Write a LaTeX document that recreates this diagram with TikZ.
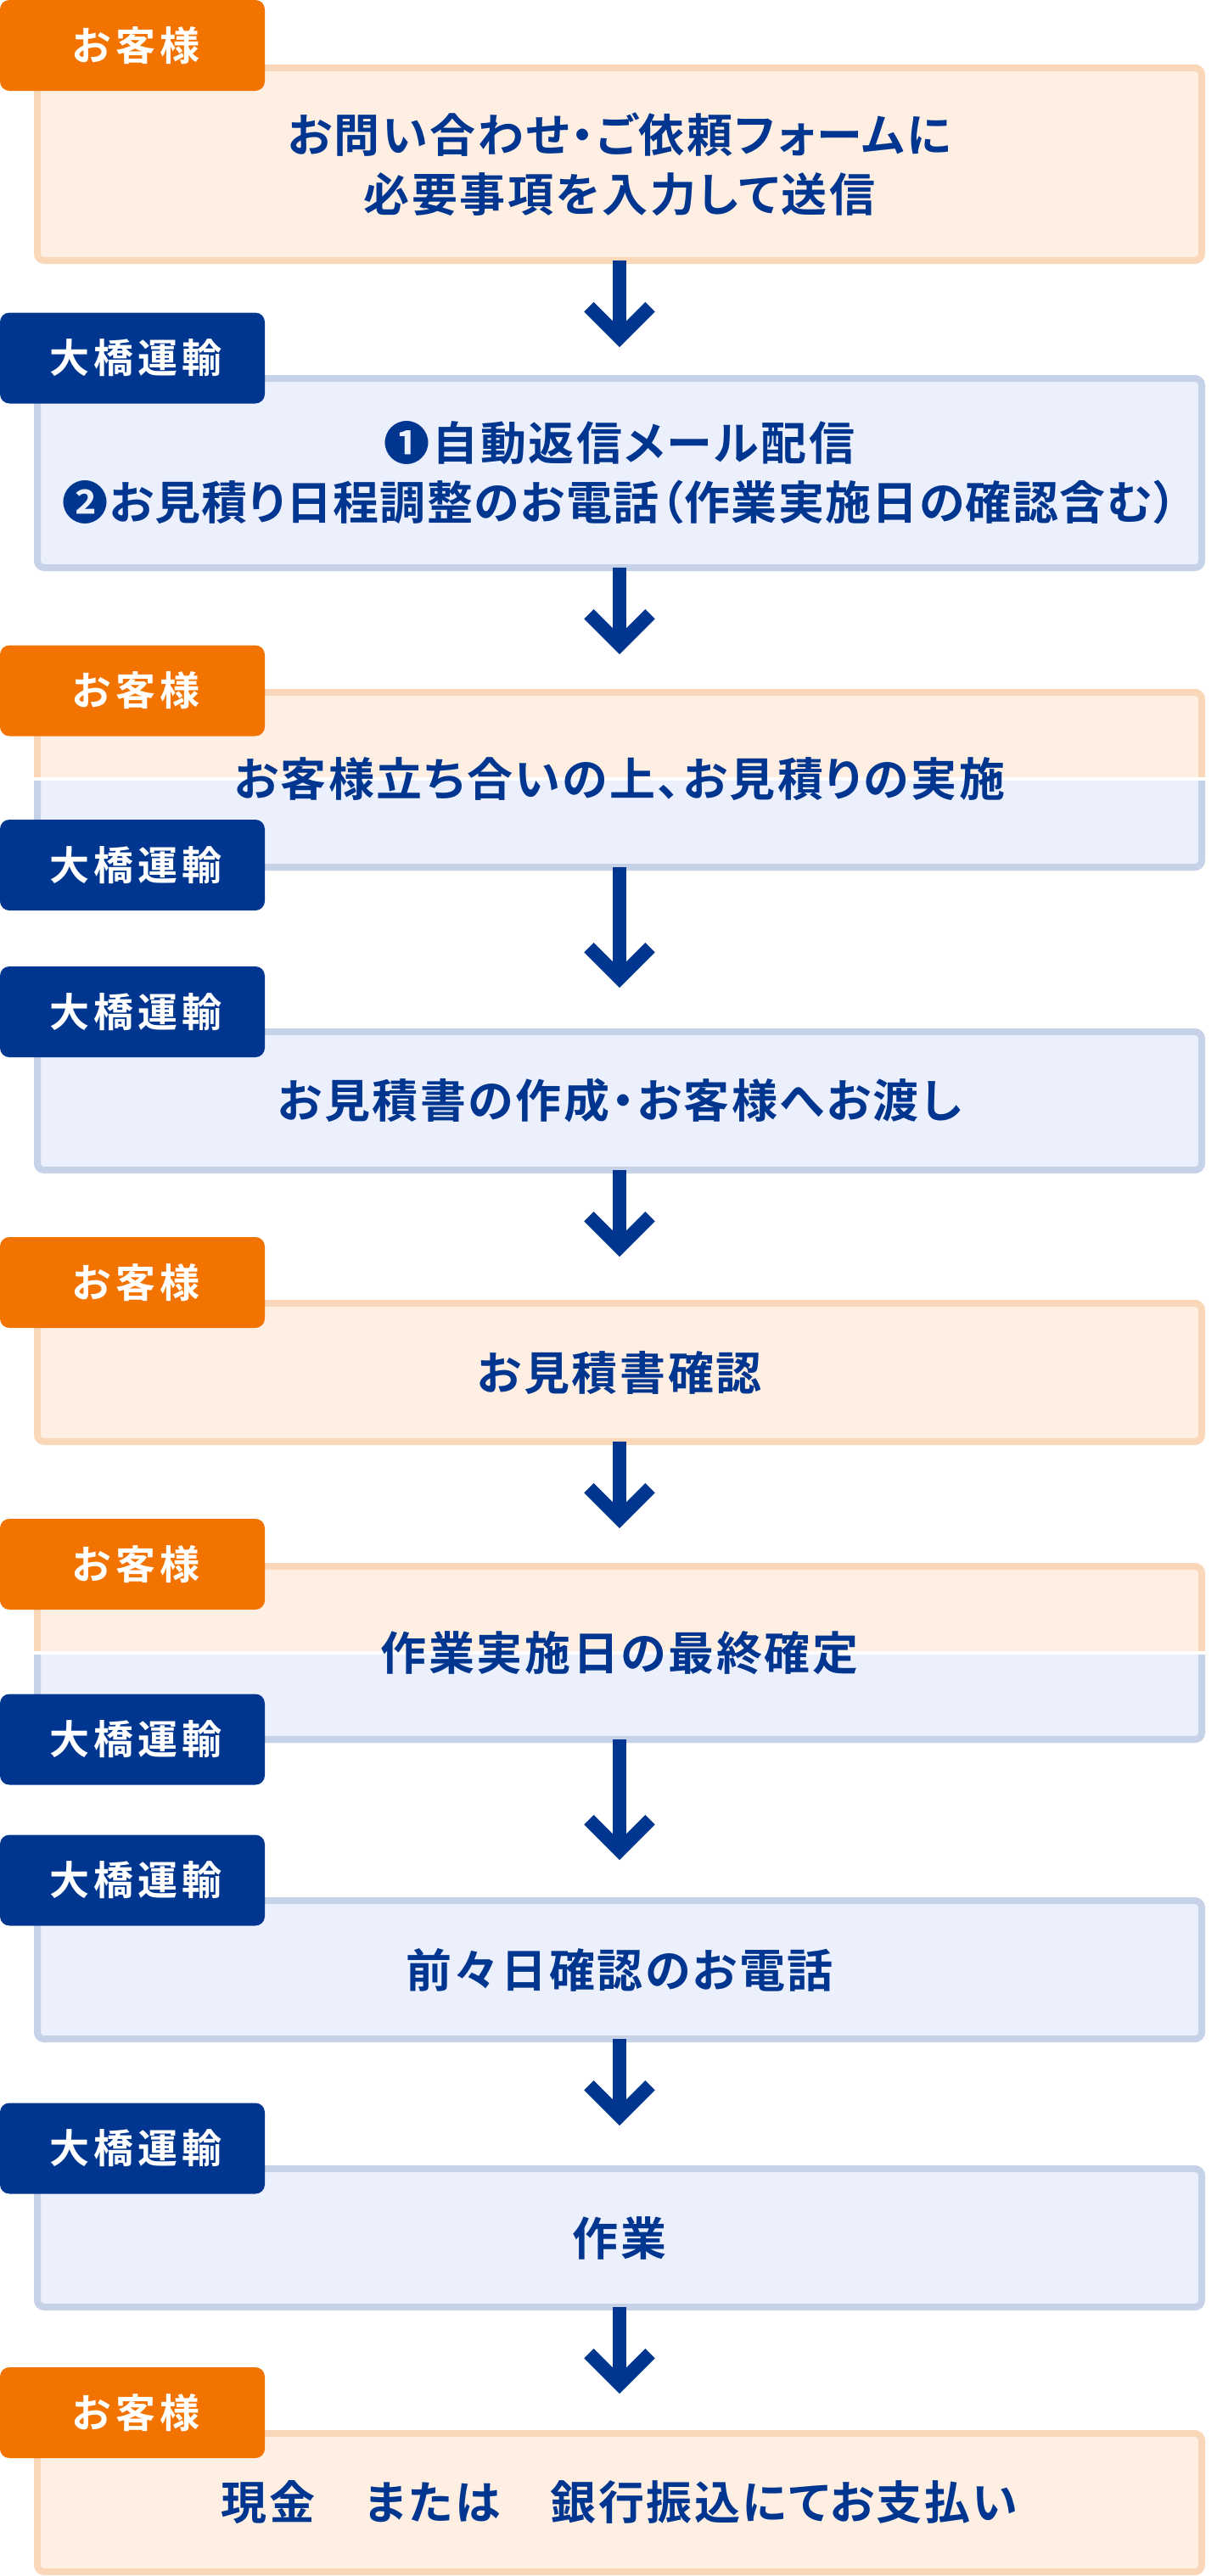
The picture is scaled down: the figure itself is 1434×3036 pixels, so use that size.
\documentclass[tikz,border=0pt]{standalone}
\usepackage{fontspec}
\newfontfamily\jpb{Noto Sans CJK JP Bold}[LetterSpace=4.8,RawFeature=+palt]
\newfontfamily\jpbn{Noto Sans CJK JP Bold}[LetterSpace=2.6,RawFeature=+palt]
\newfontfamily\jpr{Noto Sans CJK JP Bold}[LetterSpace=10]
\usetikzlibrary{calc}
\definecolor{oLab}{HTML}{F37300}
\definecolor{bLab}{HTML}{00368F}
\definecolor{oFill}{HTML}{FFEFE2}
\definecolor{oLine}{HTML}{FBD7BA}
\definecolor{bFill}{HTML}{ECF0FD}
\definecolor{bLine}{HTML}{C6D2E8}
\newcommand\maintext{\jpb\fontsize{54pt}{70pt}\selectfont}
\newcommand\labtext{\jpr\fontsize{47pt}{56pt}\selectfont}
\tikzset{
  boxbase/.style={rectangle, rounded corners=8pt, line width=8pt, minimum width=1372pt, inner sep=0pt, align=center, text=bLab, font=\maintext},
  obox/.style={boxbase, fill=oFill, draw=oLine},
  bbox/.style={boxbase, fill=bFill, draw=bLine},
  plaintext/.style={inner sep=0pt, align=center, text=bLab, font=\maintext},
  lab/.style={rectangle, rounded corners=11pt, minimum width=312pt, minimum height=107pt, inner sep=0pt, text=white, font=\labtext},
  olab/.style={lab, fill=oLab},
  blab/.style={lab, fill=bLab},
  shaft/.style={draw=bLab, line width=16pt, shorten <=-4pt},
  chev/.style={draw=bLab, line width=16pt, line join=miter, line cap=butt},
}
\newcommand\okyaku{\hspace*{8pt}お客様}
\newcommand\ohashi{\hspace*{8pt}大橋運輸}
\begin{document}
\begin{tikzpicture}[x=1pt,y=-1pt]
\useasboundingbox (0,0) rectangle (1434,3036);
% boxes
\node[obox, minimum height=227pt] (b1) at (730,193.5) {お問い合わせ・ご依頼フォームに\\必要事項を入力して送信};
\node[bbox, minimum height=223pt] (b2) at (730,557.5) {❶自動返信メール配信\\{\jpbn\fontsize{54pt}{70pt}\selectfont ❷お見積り日程調整のお電話（作業実施日の確認含む）}};
% split box 3
\node[obox, minimum height=206pt] (b3) at (730,919) {};
\begin{scope}
  \clip (0,920) rectangle (1434,1100);
  \node[bbox, minimum height=206pt] (b3b) at (730,919) {};
\end{scope}
\fill[white] (30,916) rectangle (1430,920);
\node[plaintext] (t3) at (730,918) {お客様立ち合いの上、お見積りの実施};
\node[bbox, minimum height=163pt] (b4) at (730,1297.5) {お見積書の作成・お客様へお渡し};
\node[obox, minimum height=163pt] (b5) at (730,1617.5) {お見積書確認};
% split box 6
\node[obox, minimum height=204pt] (b6) at (730,1948) {};
\begin{scope}
  \clip (0,1950) rectangle (1434,2120);
  \node[bbox, minimum height=204pt] (b6b) at (730,1948) {};
\end{scope}
\fill[white] (30,1946) rectangle (1430,1950);
\node[plaintext] (t6) at (730,1948) {作業実施日の最終確定};
\node[bbox, minimum height=163pt] (b7) at (730,2321.5) {前々日確認のお電話};
\node[bbox, minimum height=163pt] (b8) at (730,2637.5) {作業};
\node[obox, minimum height=163pt] (b9) at (730,2949.5) {現金　または　銀行振込にてお支払い};
% arrow tips
\coordinate (v1) at (730,397.7);
\coordinate (v2) at (730,759.7);
\coordinate (v3) at (730,1152.7);
\coordinate (v4) at (730,1469.7);
\coordinate (v5) at (730,1789.7);
\coordinate (v6) at (730,2180.7);
\coordinate (v7) at (730,2493.7);
\coordinate (v8) at (730,2809.7);
\foreach \a/\v in {b1/v1,b2/v2,b3b/v3,b4/v4,b5/v5,b6b/v6,b7/v7,b8/v8}{
  \draw[shaft] (\a.south) -- (\v);
  \draw[chev] ($(\v)+(-36,-36)$) -- (\v) -- ($(\v)+(36,-36)$);
}
% labels
\node[olab] (l1) at (156,53.5) {\okyaku};
\node[blab] (l2) at (156,422) {\ohashi};
\node[olab] (l3a) at (156,814) {\okyaku};
\node[blab] (l3b) at (156,1019.5) {\ohashi};
\node[blab] (l4) at (156,1192.5) {\ohashi};
\node[olab] (l5) at (156,1511.5) {\okyaku};
\node[olab] (l6a) at (156,1843.5) {\okyaku};
\node[blab] (l6b) at (156,2050) {\ohashi};
\node[blab] (l7) at (156,2216) {\ohashi};
\node[blab] (l8) at (156,2532) {\ohashi};
\node[olab] (l9) at (156,2843.5) {\okyaku};
\end{tikzpicture}
\end{document}
